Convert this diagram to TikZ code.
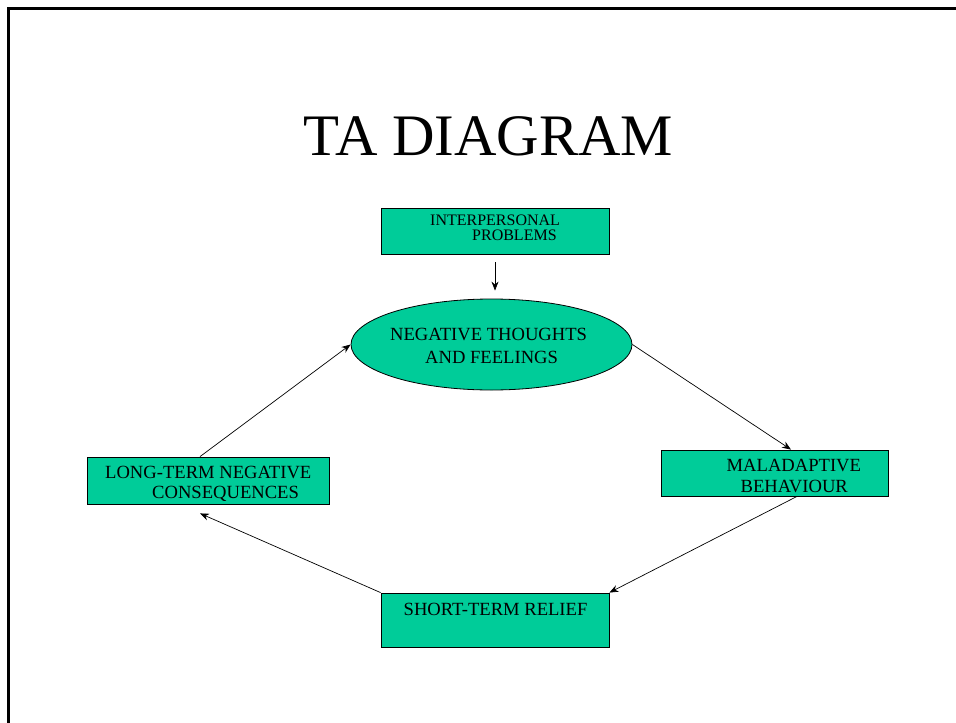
\documentclass[tikz,border=0pt]{standalone}
\usepackage{fontspec}
\setmainfont{Liberation Serif}
\usetikzlibrary{shapes.geometric,arrows.meta}
\definecolor{boxgreen}{RGB}{0,204,153}
\tikzset{
  greenbox/.style={draw=black, line width=0.8pt, fill=boxgreen, rectangle, inner sep=0pt},
  greenoval/.style={draw=black, line width=0.8pt, fill=boxgreen, ellipse, inner sep=0pt},
  lbl/.style={anchor=base west, inner sep=0pt, text=black, font=\fontsize{18.6}{22}\selectfont},
  smalllbl/.style={lbl, font=\fontsize{16}{19}\selectfont},
  flow/.style={line width=0.7pt, -{Stealth[length=9pt,width=7pt]}}
}
\begin{document}
\begin{tikzpicture}[x=1pt,y=-1pt]
\useasboundingbox (0,0) rectangle (956,723);
% slide frame
\draw[line width=3pt] (8.5,740) -- (8.5,8.5) -- (970,8.5);
% title
\node[anchor=base, inner sep=0pt, font=\fontsize{58.8}{70}\selectfont] (title) at (488.5,155) {TA DIAGRAM};
% boxes
\node[greenbox, minimum width=228pt, minimum height=46pt] (ip) at (495,231) {};
\node[greenoval, minimum width=281pt, minimum height=91pt] (ntf) at (491.5,344.5) {};
\node[greenbox, minimum width=227pt, minimum height=46pt] (mal) at (774.5,473) {};
\node[greenbox, minimum width=228pt, minimum height=54pt] (str) at (495,620) {};
\node[greenbox, minimum width=242pt, minimum height=47pt] (ltn) at (208,480.5) {};
% labels
\node[smalllbl] (ip1) at (430,225) {INTERPERSONAL};
\node[smalllbl] (ip2) at (472,240) {PROBLEMS};
\node[lbl] (ntf1) at (390,340) {NEGATIVE THOUGHTS};
\node[lbl] (ntf2) at (425,363) {AND FEELINGS};
\node[lbl] (mal1) at (726.5,471) {MALADAPTIVE};
\node[lbl] (mal2) at (740.5,492) {BEHAVIOUR};
\node[lbl] (str1) at (403.5,615) {SHORT-TERM RELIEF};
\node[lbl] (ltn1) at (105,478) {LONG-TERM NEGATIVE};
\node[lbl] (ltn2) at (152,498.5) {CONSEQUENCES};
% connectors
\coordinate (ipout) at ([yshift=-8pt]ip.south);
\coordinate (ntfin) at ([yshift=8pt]ip.south |- ntf.north);
\coordinate (ltnin) at ([xshift=-8pt,yshift=-9pt]ltn.south);
\draw[flow] (ipout) -- (ntfin);
\draw[flow] (ntf.east) -- ([xshift=16.5pt]mal.north);
\draw[flow] ([xshift=22.5pt]mal.south) -- (str.north east);
\draw[flow] (str.north west) -- (ltnin);
\draw[flow] ([xshift=-8pt]ltn.north) -- (ntf.west);
\end{tikzpicture}
\end{document}
